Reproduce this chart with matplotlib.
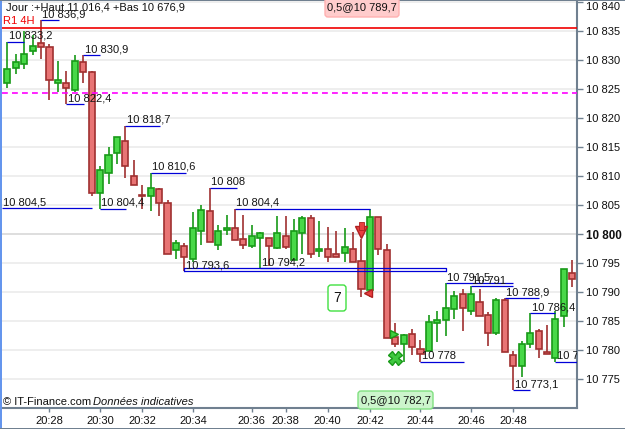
import numpy as np
import matplotlib
matplotlib.use("Agg")
import matplotlib.pyplot as plt
from matplotlib.patches import FancyBboxPatch, Rectangle

plt.rcParams['font.family'] = ['Liberation Sans', 'DejaVu Sans']

# candles
opens = [10826.1, 10828.7, 10829.4, 10831.6, 10832.9, 10832.2, 10826.0, 10826.1, 10824.9, 10829.6,
         10828.0, 10807.0, 10810.5, 10813.9, 10816.1, 10810.1, 10806.7, 10806.5, 10807.7, 10805.3,
         10797.2, 10798.0, 10795.7, 10800.6, 10803.9, 10798.2, 10800.7, 10801.1, 10799.1, 10798.0,
         10799.4, 10799.4, 10797.6, 10799.6, 10795.6, 10800.1, 10802.7, 10797.0, 10797.4, 10796.5,
         10796.7, 10797.5, 10795.3, 10790.3, 10802.9, 10797.2, 10782.2, 10781.1, 10782.7, 10780.1,
         10779.9, 10784.6, 10785.1, 10787.0, 10789.6, 10786.7, 10788.2, 10786.0, 10783.0, 10788.7,
         10779.1, 10777.2, 10781.1, 10783.2, 10779.6, 10778.6, 10785.8, 10793.2]
closes = [10828.4, 10829.6, 10831.0, 10832.5, 10832.3, 10826.5, 10826.5, 10825.2, 10829.9, 10827.9,
          10807.0, 10811.0, 10813.6, 10816.7, 10811.7, 10808.4, 10806.5, 10808.0, 10805.3, 10796.5,
          10798.4, 10796.0, 10801.0, 10804.1, 10798.7, 10800.5, 10801.0, 10798.9, 10798.2, 10799.6,
          10800.1, 10798.0, 10800.1, 10797.7, 10800.5, 10802.7, 10796.6, 10797.4, 10796.1, 10796.1,
          10797.7, 10795.1, 10790.5, 10803.0, 10797.4, 10782.0, 10781.1, 10782.6, 10780.5, 10779.4,
          10784.8, 10785.1, 10787.2, 10789.3, 10787.2, 10789.6, 10785.8, 10783.0, 10788.7, 10779.6,
          10777.2, 10781.0, 10782.9, 10780.1, 10779.4, 10785.3, 10793.9, 10792.2]
highs = [10833.2, 10831.0, 10835.1, 10834.3, 10836.9, 10832.7, 10829.9, 10828.1, 10830.8, 10830.9,
         10828.1, 10811.7, 10815.0, 10816.7, 10818.7, 10812.7, 10808.4, 10810.6, 10808.0, 10805.9,
         10799.0, 10798.4, 10803.8, 10805.0, 10808.0, 10801.6, 10803.3, 10804.4, 10803.3, 10801.6,
         10800.3, 10799.4, 10803.1, 10803.1, 10802.6, 10803.1, 10803.3, 10802.2, 10801.2, 10800.5,
         10801.0, 10800.3, 10799.1, 10804.4, 10802.9, 10798.3, 10784.7, 10782.7, 10783.7, 10781.7,
         10786.1, 10786.8, 10791.5, 10790.1, 10790.5, 10791.0, 10790.5, 10786.6, 10788.9, 10788.9,
         10779.9, 10781.5, 10786.4, 10783.7, 10784.3, 10786.7, 10793.9, 10795.5]
lows = [10825.2, 10827.6, 10828.5, 10830.9, 10830.2, 10823.2, 10824.5, 10822.4, 10824.5, 10826.1,
        10806.6, 10804.4, 10808.6, 10812.0, 10809.7, 10808.4, 10804.3, 10803.9, 10803.2, 10796.5,
        10795.7, 10793.6, 10795.1, 10798.2, 10798.7, 10797.3, 10799.8, 10798.9, 10797.5, 10797.6,
        10794.2, 10794.5, 10797.5, 10797.5, 10795.6, 10796.6, 10795.8, 10796.1, 10795.2, 10796.1,
        10795.2, 10795.1, 10789.2, 10789.2, 10796.4, 10782.0, 10780.5, 10778.0, 10779.2, 10778.0,
        10779.9, 10781.4, 10782.5, 10785.3, 10783.2, 10786.0, 10785.8, 10780.7, 10782.6, 10779.6,
        10773.1, 10775.4, 10780.3, 10778.7, 10779.3, 10778.0, 10784.0, 10790.8]

y_ticks = [10840, 10835, 10830, 10825, 10820, 10815, 10810, 10805, 10800, 10795, 10790, 10785, 10780, 10775]
y_ticklabels = ['10 840', '10 835', '10 830', '10 825', '10 820', '10 815', '10 810', '10 805', '10 800',
                '10 795', '10 790', '10 785', '10 780', '10 775']
x_ticks = [5, 11, 16, 22, 29, 33, 38, 43, 49, 55, 60]
x_ticklabels = ['20:28', '20:30', '20:32', '20:34', '20:36', '20:38', '20:40', '20:42', '20:44', '20:46', '20:48']

# swing labels: text, level, start candle, end candle
swing_text = ['10 833,2', '10 836,9', '10 830,9', '10 822,4', '10 818,7', '10 810,6', '10 804,5', '10 804,4',
              '10 793,6', '10 808', '10 804,4', '10 794,2', '10 791,5', '10 791', '10 788,9', '10 786,4',
              '10 778', '10 773,1', '10 778']
swing_level = [10833.2, 10836.9, 10830.9, 10822.4, 10818.7, 10810.6, 10804.5, 10804.4,
               10793.6, 10808.0, 10804.4, 10794.2, 10791.5, 10791.0, 10788.9, 10786.4,
               10778.0, 10773.1, 10778.0]
swing_start = [0, 4, 9, 7, 14, 17, -0.63, 11, 21, 24, 27, 30, 52, 55, 59, 62, 49, 60, 65]
swing_end = [2, 6.1, 11, 9.1, 18.1, 21.2, 10.1, 14.1, 52, 27.2, 43, 32.2, 60, 60, 63.1, 65, 54.1, 62, 67.56]

resistance = 10835.5
pivot = 10824.4
box_level = 10794.1

fig = plt.figure(figsize=(6.25, 4.29), dpi=100)
ax = fig.add_axes([2 / 625, 21 / 429, 575 / 625, 407 / 429])
ax.set_xlim(-0.63, 67.56)
ax.set_ylim(10770.0, 10840.2)
ax.set_axisbelow(True)

# grid
for t in y_ticks:
    ax.axhline(t, color='#d8d8d8' if t == 10800 else '#ebebeb', lw=1.2, zorder=0)

# candles
x = np.arange(len(opens))
o = np.array(opens)
c = np.array(closes)
up = c >= o
for mask, face, edge in [(up, '#48d848', '#189a18'), (~up, '#e87474', '#a03030')]:
    ax.vlines(x[mask], np.array(lows)[mask], np.array(highs)[mask], color=edge, lw=1.2, zorder=2)
    ax.bar(x[mask], np.abs(c - o)[mask], bottom=np.minimum(o, c)[mask], width=0.72,
           color=face, edgecolor=edge, lw=1.2, zorder=3)

# red + magenta levels
ax.axhline(resistance, color='#f00000', lw=1.2, zorder=4)
ax.axhline(pivot, color='#ff00ff', lw=1.2, ls=(0, (3.5, 2.5)), zorder=4)

# swing lines and their labels
for txt, lev, x0, x1 in zip(swing_text, swing_level, swing_start, swing_end):
    ax.plot([x0, x1], [lev, lev], color='#0000d8', lw=0.9, zorder=5, solid_capstyle='butt')
    ax.annotate(txt, xy=(x0, lev), xytext=(1, 0.5), textcoords='offset points', fontsize=8.0,
                color='#151515', ha='left', va='bottom', zorder=6, annotation_clip=False, clip_on=True)
ax.plot([21, 21, 52, 52], [10793.6, box_level, box_level, 10793.6], color='#0000d8', lw=0.9, zorder=5)

# markers
ax.plot(42, 10800.3, marker='v', ms=8, color='#e84040', mec='#b02020', zorder=6)
ax.add_patch(Rectangle((41.7, 10800.7), 0.6, 1.4, fc='#e84040', ec='#b02020', lw=0.6, zorder=6))
ax.plot(42.8, 10789.9, marker='<', ms=5.5, color='#e84040', mec='#b02020', zorder=6)
ax.plot(45.8, 10782.8, marker='>', ms=5.5, color='#40d040', mec='#189a18', zorder=6)
ax.plot(46, 10778.7, marker='X', ms=10, color='#40c840', mec='#189a18', zorder=6)

# badges, pixel coordinates
def badge(x0, y0, x1, y1, txt, face, edge, size=8.0):
    w = x1 - x0
    h = y1 - y0
    p = FancyBboxPatch((x0, 429 - y1), w, h, boxstyle='round,pad=0,rounding_size=3',
                       fc=face, ec=edge, lw=1, transform=None, zorder=7)
    fig.add_artist(p)
    fig.text((x0 + x1) / 2 / 625, (429 - (y0 + y1) / 2) / 429, txt, ha='center', va='center',
             fontsize=size, color='#101010', zorder=8)

badge(325, -3, 399, 17, '0,5@10 789,7', '#ffcccc', '#ffb0b0')
badge(358, 391, 433, 409, '0,5@10 782,7', '#ccf5cc', '#80e080')
badge(328, 285, 346, 311, '7', '#ffffff', '#40e040', 10)

# axes
ax.yaxis.tick_right()
ax.set_yticks(y_ticks)
ax.set_yticklabels(y_ticklabels)
ax.set_xticks(x_ticks)
ax.set_xticklabels(x_ticklabels)
ax.tick_params(axis='y', length=4.3, width=1, color='#708090', labelsize=8.0, pad=2, labelcolor='#101010')
ax.tick_params(axis='x', length=3, width=1, color='#708090', labelsize=8.0, pad=2.5, labelcolor='#101010')
for lab in ax.get_yticklabels():
    if lab.get_text() == '10 800':
        lab.set_fontweight('bold')
        lab.set_fontsize(8.4)
    if lab.get_text() == '10 840':
        lab.set_verticalalignment('top')
for s in ['top', 'left']:
    ax.spines[s].set_visible(False)
for s in ['right', 'bottom']:
    ax.spines[s].set_color('#708090')
    ax.spines[s].set_linewidth(1.5)

# header and footer
fig.text(6 / 625, 1 - 8 / 429, 'Jour :+Haut 11 016,4 +Bas 10 676,9', fontsize=8.0, va='center', color='#101010', zorder=8)
fig.text(3 / 625, 1 - 21 / 429, 'R1 4H', fontsize=8.0, va='center', color='#f00000', zorder=8)
fig.text(3 / 625, 1 - 402 / 429, '© IT-Finance.com', fontsize=8.0, va='center', color='#101010', zorder=8)
fig.text(93 / 625, 1 - 402 / 429, 'Données indicatives', fontsize=8.0, style='italic', va='center', color='#101010', zorder=8)

# frame of the window
fig.add_artist(Rectangle((0, 0), 2 / 625, 1, transform=fig.transFigure, fc='#6495ed', ec='none'))
fig.add_artist(Rectangle((0, 0), 1, 1.5 / 429, transform=fig.transFigure, fc='#708090', ec='none'))
fig.add_artist(Rectangle((0, 1 - 1 / 429), 1, 1 / 429, transform=fig.transFigure, fc='#708090', ec='none'))

fig.savefig('out.png', dpi=100)
